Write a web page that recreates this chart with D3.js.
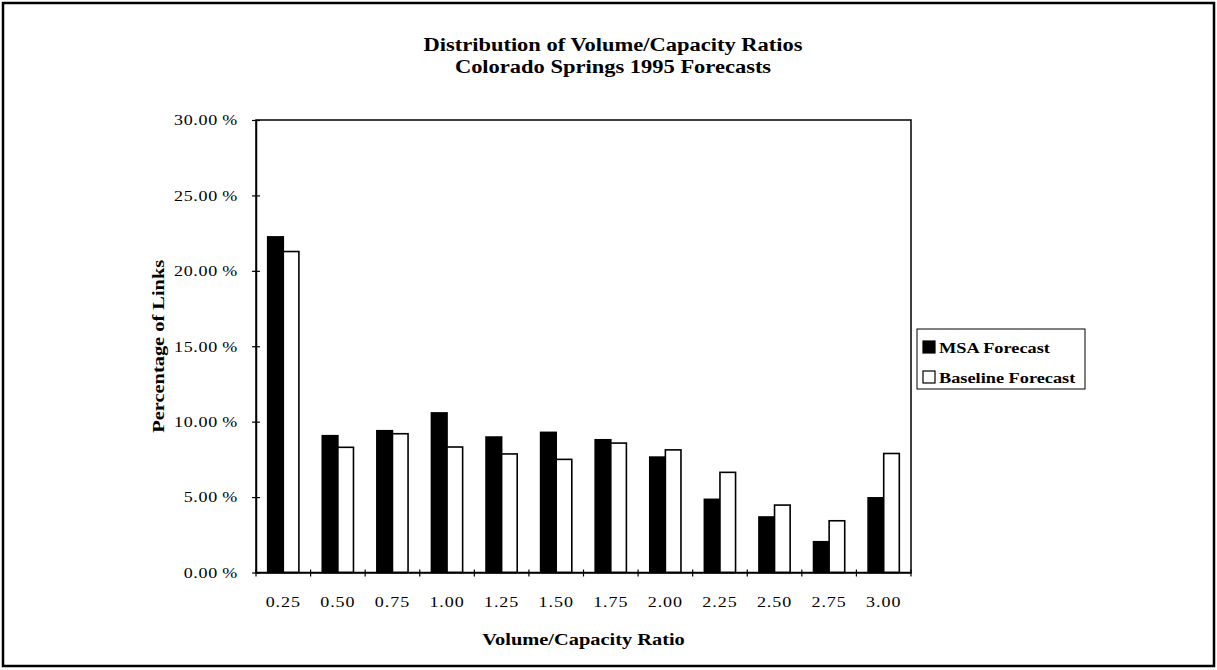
<!DOCTYPE html>
<html>
<head>
<meta charset="utf-8">
<script src="https://cdn.jsdelivr.net/npm/d3@7"></script>
<style>
  html, body { margin: 0; padding: 0; background: #fff; }
  svg { display: block; }
  text { font-family: "Liberation Serif", "Times New Roman", serif; fill: #000; }
</style>
</head>
<body>
<svg id="chart" width="1217" height="670"></svg>
<script>
// V/C ratio bins (upper bound of each bin)
const categories = ["0.25", "0.50", "0.75", "1.00", "1.25", "1.50", "1.75", "2.00", "2.25", "2.50", "2.75", "3.00"];
const seriesNames = ["MSA Forecast", "Baseline Forecast"];
// Share of network links falling in each bin
const msaValues = [0.2225, 0.0907, 0.0940, 0.1058, 0.0898, 0.0929, 0.0880, 0.0765, 0.0485, 0.0368, 0.0204, 0.0495];
const baselineValues = [0.2128, 0.0830, 0.0920, 0.0832, 0.0786, 0.0750, 0.0858, 0.0813, 0.0664, 0.0447, 0.0343, 0.0789];
const yTicks = [0, 0.05, 0.10, 0.15, 0.20, 0.25, 0.30];
const titleLines = ["Distribution of Volume/Capacity Ratios", "Colorado Springs 1995 Forecasts"];

const svg = d3.select("#chart");
const W = 1217, H = 670;
const plot = { left: 256, right: 911, top: 120, bottom: 572.5 };
const fills = ["#000", "#fff"];

// widen glyphs horizontally around each text's own anchor point
function stretch(sel, sx) {
  sel.each(function () {
    const t = d3.select(this);
    const x = +t.attr("x") || 0, y = +t.attr("y") || 0;
    t.attr("x", 0).attr("y", 0)
      .attr("transform", `translate(${x},${y}) scale(${sx},1)`);
  });
}

// outer frame
svg.append("rect")
  .attr("x", 3).attr("y", 3).attr("width", W - 6).attr("height", 663)
  .attr("fill", "none").attr("stroke", "#000").attr("stroke-width", 2.5);

// title
svg.append("g").selectAll("text").data(titleLines).join("text")
  .attr("x", 613).attr("y", (d, i) => 51 + i * 22)
  .attr("text-anchor", "middle")
  .attr("font-size", 18).attr("font-weight", "bold")
  .text(d => d)
  .call(stretch, 1.25);

const x0 = d3.scaleBand().domain(categories)
  .range([plot.left, plot.right])
  .paddingInner(1.5 / 3.5).paddingOuter(0.75 / 3.5);
const x1 = d3.scaleBand().domain(seriesNames).range([0, x0.bandwidth()]);
const y = d3.scaleLinear().domain([0, 0.30]).range([plot.bottom, plot.top]);

const rows = categories.map((c, i) => ({ cat: c, vals: [msaValues[i], baselineValues[i]] }));

// bars
const groups = svg.append("g").selectAll("g").data(rows).join("g")
  .attr("transform", d => `translate(${x0(d.cat)},0)`);
groups.selectAll("rect")
  .data(d => d.vals.map((v, k) => ({ name: seriesNames[k], v, k })))
  .join("rect")
  .attr("x", d => x1(d.name))
  .attr("y", d => y(d.v))
  .attr("width", x1.bandwidth())
  .attr("height", d => y(0) - y(d.v))
  .attr("fill", d => fills[d.k])
  .attr("stroke", "#000").attr("stroke-width", 1.6);

// plot area border
svg.append("rect")
  .attr("x", plot.left).attr("y", plot.top)
  .attr("width", plot.right - plot.left).attr("height", plot.bottom - plot.top)
  .attr("fill", "none").attr("stroke", "#000").attr("stroke-width", 1.5);

// y axis
const yAxis = svg.append("g")
  .attr("transform", `translate(${plot.left},0)`)
  .call(d3.axisLeft(y).tickValues(yTicks).tickSize(0).tickPadding(18)
    .tickFormat(d => (d * 100).toFixed(2) + "\u2009%"));
yAxis.select(".domain").attr("stroke", "#000").attr("stroke-width", 1.5);
yAxis.selectAll(".tick line").attr("x1", -4).attr("x2", 4).attr("stroke", "#000").attr("stroke-width", 1.2);
yAxis.selectAll(".tick text").attr("font-size", 15).attr("letter-spacing", 0.6)
  .attr("font-family", "Liberation Serif, Times New Roman, serif")
  .call(stretch, 1.2);

// x axis labels
const xAxis = svg.append("g")
  .attr("transform", `translate(0,${plot.bottom})`)
  .call(d3.axisBottom(x0).tickSize(0).tickPadding(24));
xAxis.select(".domain").attr("stroke", "#000").attr("stroke-width", 1.5);
xAxis.selectAll(".tick text").attr("font-size", 15).attr("letter-spacing", 0.8)
  .attr("font-family", "Liberation Serif, Times New Roman, serif")
  .call(stretch, 1.2);

// x tick marks at bin boundaries
const bounds = d3.range(categories.length + 1).map(i => plot.left + i * x0.step());
svg.append("g").selectAll("line").data(bounds).join("line")
  .attr("x1", d => d).attr("x2", d => d)
  .attr("y1", plot.bottom - 3).attr("y2", plot.bottom + 4)
  .attr("stroke", "#000").attr("stroke-width", 1.2);

// axis titles
svg.append("text")
  .attr("x", (plot.left + plot.right) / 2).attr("y", 645)
  .attr("text-anchor", "middle").attr("font-size", 17).attr("font-weight", "bold")
  .text("Volume/Capacity Ratio")
  .call(stretch, 1.2);
svg.append("text")
  .attr("transform", `translate(164,${(plot.top + plot.bottom) / 2}) rotate(-90) scale(1.2,1)`)
  .attr("text-anchor", "middle").attr("font-size", 17).attr("font-weight", "bold")
  .text("Percentage of Links");

// legend
const lg = svg.append("g").attr("transform", "translate(917,329)");
lg.append("rect").attr("width", 168).attr("height", 60)
  .attr("fill", "#fff").attr("stroke", "#000").attr("stroke-width", 1);
const items = lg.selectAll("g").data(seriesNames).join("g")
  .attr("transform", (d, i) => `translate(6,${12 + i * 30})`);
items.append("rect").attr("width", 12).attr("height", 12)
  .attr("fill", (d, i) => fills[i]).attr("stroke", "#000").attr("stroke-width", 1.2);
items.append("text").attr("x", 16).attr("y", 12)
  .attr("font-size", 15).attr("font-weight", "bold")
  .text(d => d)
  .call(stretch, 1.22);
</script>
</body>
</html>
